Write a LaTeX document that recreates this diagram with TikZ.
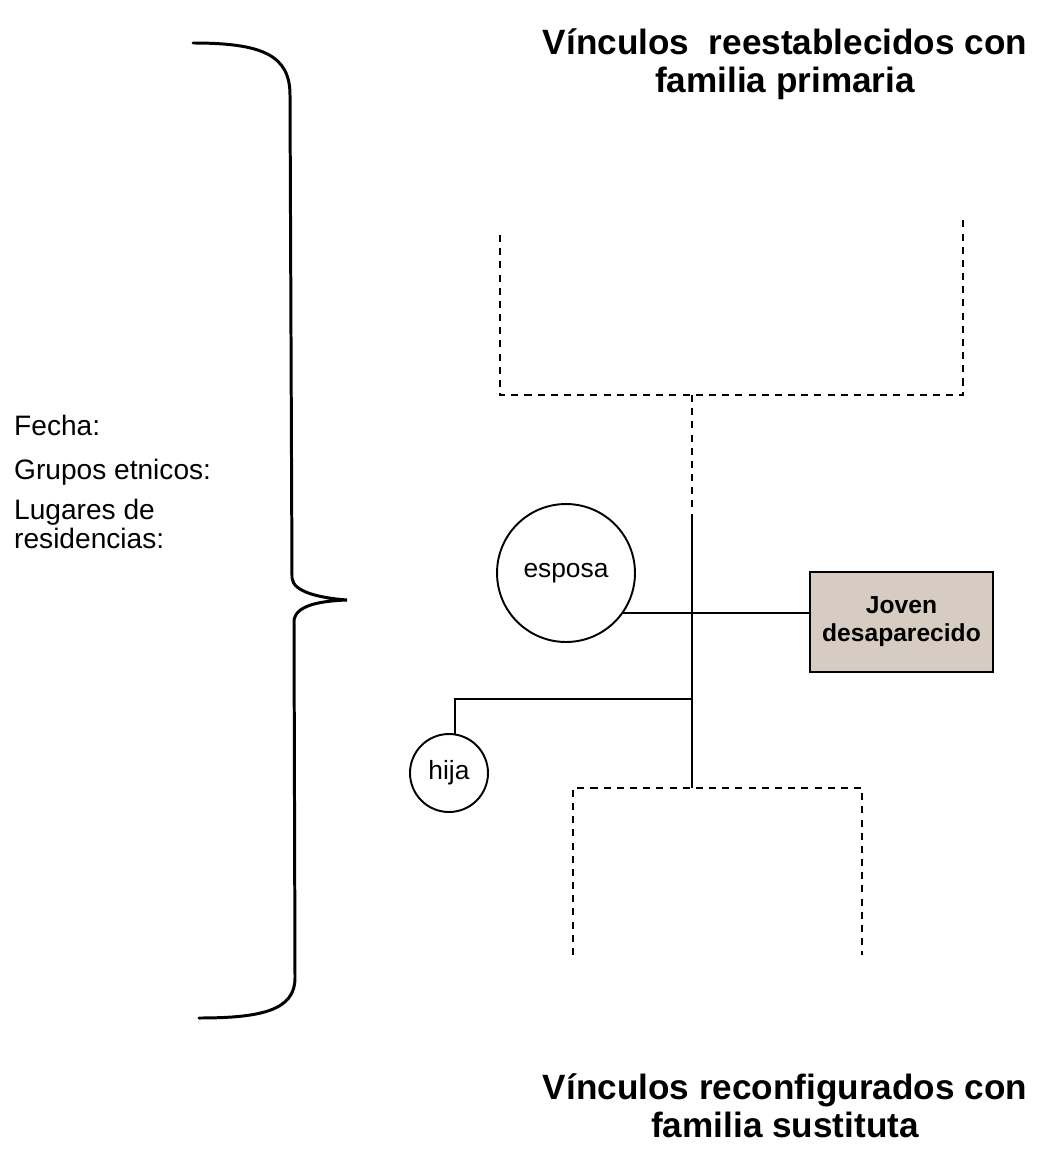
\documentclass[tikz,border=0pt]{standalone}
\usepackage{fontspec}
\setmainfont{Liberation Sans}
\usetikzlibrary{arrows.meta, positioning}
\definecolor{boxtan}{RGB}{214,204,193}

\begin{document}
\begin{tikzpicture}[
    x=0.02cm, y=-0.02cm,
    title/.style={align=center, font=\fontsize{20}{21.5}\selectfont\bfseries},
    info/.style={anchor=west, align=left, font=\fontsize{16}{16.5}\selectfont},
    person/.style={circle, draw, line width=1.1pt, inner sep=0pt, font=\fontsize{15}{16}\selectfont},
    joven/.style={rectangle, draw, line width=1.2pt, fill=boxtan, minimum width=3.66cm, minimum height=2cm, align=center, font=\fontsize{14}{16}\selectfont\bfseries},
    link/.style={line width=1.1pt},
    kin/.style={line width=1.4pt, dash pattern=on 4pt off 3.5pt},
    brace/.style={line width=1.7pt, line cap=round}
]
\useasboundingbox (0,0) rectangle (1048,1149);

\node[title] (toptitle) at (785,64) {Vínculos\ \ reestablecidos con\\familia primaria};
\node[title] (bottitle) at (785,1106) {Vínculos reconfigurados con\\familia sustituta};

\node[info] (fecha) at (8,425) {Fecha:};
\node[info] (grupos) at (8,472) {Grupos etnicos:};
\node[info] (lugares) at (8,524) {Lugares de\\residencias:};

\draw[brace] (193,43) .. controls (262,43) and (290,55) .. (290,95) -- (292,578)
    .. controls (293,592) and (320,598) .. (347,600)
    .. controls (318,601) and (294,606) .. (294,622) -- (295,978)
    .. controls (295,1010) and (262,1018) .. (199,1018);

\node[person, minimum size=2.76cm] (esposa) at (566,573) {esposa};
\node[person, minimum size=1.56cm] (hija) at (449,773) {hija};
\node[joven] (joven) at (901.5,622) {Joven\\desaparecido};

\coordinate (pa) at (500,235);
\coordinate (pb) at (963,217);
\coordinate (pmid) at (692,395);
\coordinate (split) at (692,515);
\coordinate (hijalink) at (692,699);
\coordinate (bmid) at (692,788);
\coordinate (ca) at (573,955);
\coordinate (cb) at (862,955);

\draw[kin] (pa) |- (pmid) -| (pb);
\draw[kin] (pmid) -- (split);
\draw[link] (split) -- (bmid);
\draw[kin] (ca) |- (bmid) -| (cb);
\draw[link] (esposa.-35) -- (esposa.-35 -| joven.west);
\draw[link] (hija.81) |- (hijalink);

\end{tikzpicture}
\end{document}
